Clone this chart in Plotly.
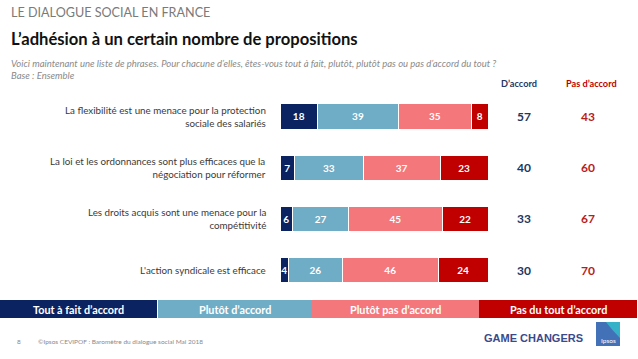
import plotly.graph_objects as go

W, H = 638, 359

categories = [
    "La flexibilité est une menace pour la protection<br>sociale des salariés",
    "La loi et les ordonnances sont plus efficaces que la<br>négociation pour réformer",
    "Les droits acquis sont une menace pour la<br>compétitivité",
    "L'action syndicale est efficace",
]
series_names = ["Tout à fait d’accord", "Plutôt d’accord", "Plutôt pas d’accord", "Pas du tout d’accord"]
tout_a_fait = [18, 7, 6, 4]
plutot = [39, 33, 27, 26]
plutot_pas = [35, 37, 45, 46]
pas_du_tout = [8, 23, 22, 24]
total_accord = [57, 40, 33, 30]
total_pas_accord = [43, 60, 67, 70]

colors = ["#0b2461", "#6fadc6", "#f4777b", "#c00000"]
FONT = "Lato"


def px(x):
    return x / W


def py(y):
    return 1 - y / H


fig = go.Figure()
for name, vals, col in zip(series_names, [tout_a_fait, plutot, plutot_pas, pas_du_tout], colors):
    fig.add_trace(go.Bar(
        y=categories, x=vals, name=name, orientation="h",
        marker=dict(color=col, line=dict(color="white", width=1)),
        width=0.49,
        text=vals, texttemplate="%{x}", textposition="inside",
        insidetextanchor="middle", constraintext="none",
        textfont=dict(family=FONT, size=10, color="white", weight=700),
        showlegend=False, hoverinfo="skip",
    ))

fig.update_layout(
    barmode="stack", width=W, height=H,
    margin=dict(l=0, r=0, t=0, b=0),
    paper_bgcolor="white", plot_bgcolor="white",
    font=dict(family=FONT),
    xaxis=dict(domain=[px(280), px(488)], range=[0, 100], visible=False, fixedrange=True),
    yaxis=dict(domain=[py(295.6), py(90.9)], type="category", categoryorder="array",
               categoryarray=categories, range=[3.5, -0.5], visible=False),
)

ann = []
# category labels
for c in categories:
    ann.append(dict(x=px(268), xref="paper", y=c, yref="y", text=c, showarrow=False,
                    xanchor="right", align="right", yanchor="middle",
                    font=dict(family=FONT, size=9.8, color="#3a3a3a")))
# totals
for c, a, p in zip(categories, total_accord, total_pas_accord):
    ann.append(dict(x=px(524), xref="paper", y=c, yref="y", text=str(a), showarrow=False,
                    xanchor="center", font=dict(family=FONT, size=12, color="#22365e", weight=700)))
    ann.append(dict(x=px(588), xref="paper", y=c, yref="y", text=str(p), showarrow=False,
                    xanchor="center", font=dict(family=FONT, size=12, color="#b81c1c", weight=700)))
# column headers
ann.append(dict(x=px(519), y=py(83), xref="paper", yref="paper", text="D’accord", showarrow=False,
                xanchor="center", yanchor="middle", font=dict(family=FONT, size=9.2, color="#1f3864", weight=700)))
ann.append(dict(x=px(591), y=py(83), xref="paper", yref="paper", text="Pas d’accord", showarrow=False,
                xanchor="center", yanchor="middle", font=dict(family=FONT, size=9.2, color="#c00000", weight=700)))
# titles
ann.append(dict(x=px(9), y=py(12), xref="paper", yref="paper", text="LE DIALOGUE SOCIAL EN FRANCE",
                showarrow=False, xanchor="left", yanchor="middle",
                font=dict(family=FONT, size=12.6, color="#7a7a7a")))
ann.append(dict(x=px(9), y=py(39), xref="paper", yref="paper",
                text="<b>L’adhésion à un certain nombre de propositions</b>",
                showarrow=False, xanchor="left", yanchor="middle",
                font=dict(family=FONT, size=16.6, color="#111111")))
ann.append(dict(x=px(9), y=py(70), xref="paper", yref="paper",
                text="<i>Voici maintenant une liste de phrases. Pour chacune d’elles, êtes-vous tout à fait, plutôt, plutôt pas ou pas d’accord du tout ?<br>Base : Ensemble</i>",
                showarrow=False, xanchor="left", yanchor="middle", align="left",
                font=dict(family=FONT, size=9.5, color="#8a8a8a")))

# bottom legend band
shapes = []
bounds = [(0, 157), (158, 311), (311, 479), (479, 637)]
for (x0, x1), col, name in zip(bounds, colors, series_names):
    shapes.append(dict(type="rect", xref="paper", yref="paper", x0=px(x0), x1=px(x1),
                       y0=py(318), y1=py(300), fillcolor=col, line=dict(width=0)))
    ann.append(dict(x=px((x0 + x1) / 2), y=py(309), xref="paper", yref="paper", text=name,
                    showarrow=False, xanchor="center", yanchor="middle",
                    font=dict(family=FONT, size=10.8, color="white", weight=700)))

# footer
ann.append(dict(x=px(19), y=py(341), xref="paper", yref="paper", text="8", showarrow=False,
                xanchor="center", yanchor="middle", font=dict(family=FONT, size=6.5, color="#8a8a8a")))
ann.append(dict(x=px(36), y=py(341), xref="paper", yref="paper",
                text="©Ipsos CEVIPOF : Baromètre du dialogue social Mai 2018", showarrow=False,
                xanchor="left", yanchor="middle", font=dict(family=FONT, size=6.5, color="#8a8a8a")))
ann.append(dict(x=px(533), y=py(338), xref="paper", yref="paper", text="GAME CHANGERS", showarrow=False,
                xanchor="center", yanchor="middle",
                font=dict(family="Liberation Sans", size=11, color="#3a4a8a", weight=700)))
# Ipsos logo
shapes.append(dict(type="rect", xref="paper", yref="paper", x0=px(596), x1=px(620),
                   y0=py(346), y1=py(322), fillcolor="#4371b8", line=dict(width=0)))
shapes.append(dict(type="path", xref="paper", yref="paper",
                   path=f"M {px(606)} {py(322)} L {px(620)} {py(322)} L {px(620)} {py(338)} Q {px(612)} {py(330)} {px(606)} {py(322)} Z",
                   fillcolor="#35b2c7", line=dict(width=0)))
ann.append(dict(x=px(608), y=py(340), xref="paper", yref="paper", text="Ipsos", showarrow=False,
                xanchor="center", yanchor="middle", font=dict(family=FONT, size=6.5, color="white")))

fig.update_layout(annotations=ann, shapes=shapes)
fig.write_html("out.html", config={"displayModeBar": False},
               post_script="document.body.style.margin='0px';")
